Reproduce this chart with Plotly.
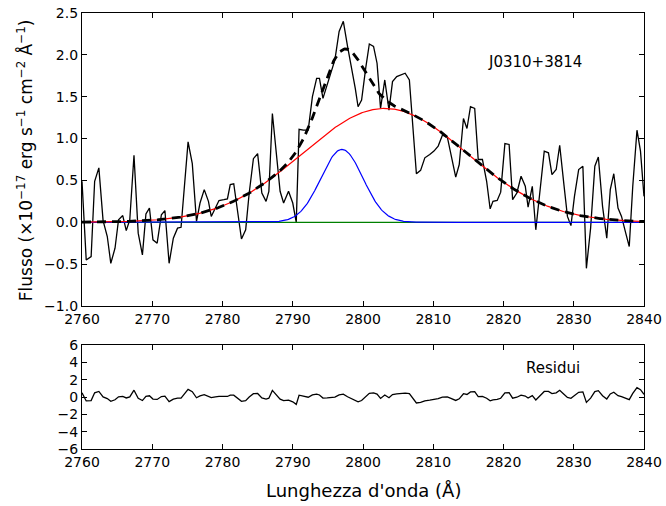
import numpy as np
import plotly.graph_objects as go

wave = [2760.0, 2760.6, 2761.3, 2761.8, 2762.4, 2763.0, 2763.6, 2764.1, 2764.7, 2765.2,
        2765.8, 2766.3, 2766.8, 2767.4, 2768.0, 2768.6, 2769.1, 2769.6, 2770.1, 2770.7,
        2771.3, 2771.8, 2772.4, 2773.0, 2773.6, 2774.1, 2775.1, 2775.7, 2776.3, 2776.8,
        2777.4, 2778.0, 2778.4, 2779.0, 2779.5, 2780.2, 2780.7, 2781.1, 2781.6, 2782.7,
        2783.3, 2783.8, 2784.4, 2785.0, 2785.6, 2786.2, 2786.6, 2787.1, 2787.7, 2788.2,
        2788.7, 2789.4, 2790.0, 2790.5, 2790.9, 2791.5, 2792.2, 2792.8, 2793.4, 2793.8,
        2794.3, 2794.9, 2795.4, 2796.0, 2796.6, 2797.2, 2797.8, 2798.4, 2798.9, 2799.3,
        2799.8, 2800.4, 2800.9, 2801.5, 2802.0, 2802.5, 2803.1, 2803.7, 2804.2, 2804.8,
        2805.4, 2806.0, 2806.6, 2807.1, 2807.6, 2808.2, 2808.8, 2809.5, 2810.1, 2810.7,
        2811.3, 2812.0, 2812.6, 2813.2, 2813.7, 2814.3, 2814.8, 2815.3, 2815.9, 2816.4,
        2817.0, 2817.6, 2818.1, 2818.5, 2819.1, 2819.6, 2820.2, 2820.8, 2821.3, 2821.9,
        2822.5, 2823.1, 2823.5, 2824.1, 2824.6, 2825.2, 2825.8, 2826.4, 2826.9, 2827.5,
        2828.0, 2828.6, 2829.1, 2829.6, 2830.1, 2830.7, 2831.3, 2831.8, 2832.4, 2833.0,
        2833.5, 2834.1, 2834.7, 2835.2, 2835.7, 2836.3, 2836.8, 2837.4, 2837.9, 2838.4,
        2839.0, 2839.5, 2840.0]

flux = [0.49, -0.45, -0.41, 0.49, 0.65, 0.02, -0.17, -0.49, -0.31, 0.03,
        0.08, -0.10, 0.03, 0.80, -0.13, -0.39, 0.10, 0.17, -0.21, -0.25,
        0.09, 0.14, -0.49, -0.19, -0.07, -0.06, 0.96, 0.70, 0.01, 0.23,
        0.39, 0.25, 0.07, 0.17, 0.26, 0.27, 0.28, 0.45, 0.46, -0.20,
        -0.09, 0.35, 0.76, 0.82, 0.35, 0.25, 0.37, 1.30, 0.77, 0.37,
        0.23, 0.37, 0.23, 0.00, 1.11, 1.10, 1.10, 1.50, 1.72, 1.72,
        1.48, 1.64, 1.75, 1.94, 2.28, 2.40, 2.10, 1.84, 1.60, 1.38,
        1.46, 1.85, 2.13, 2.10, 1.90, 1.36, 1.70, 1.34, 1.68, 1.74,
        1.76, 1.78, 1.70, 1.14, 0.58, 0.62, 0.77, 0.81, 0.85, 0.91,
        1.04, 1.02, 0.79, 0.54, 0.69, 1.24, 1.12, 1.38, 1.36, 0.75,
        0.75, 0.49, 0.16, 0.25, 0.26, 0.36, 0.94, 0.93, 0.27, 0.35,
        0.55, 0.43, 0.18, 0.43, -0.09, 0.40, 0.85, 0.83, 0.57, 0.63,
        0.92, 0.45, 0.07, -0.04, 0.31, 0.63, 0.67, -0.55, -0.07, 0.67,
        0.78, 0.19, -0.19, 0.39, 0.58, 0.17, 0.07, -0.13, -0.29, 0.43,
        1.10, 0.85, 0.31]

# Gaussian components: (amplitude, centre, sigma)
broad = (1.36, 2803.1, 11.7)
narrow = (0.87, 2797.0, 3.0)
continuum = 0.0

xticks = [2760, 2770, 2780, 2790, 2800, 2810, 2820, 2830, 2840]
yticks_top = [-1.0, -0.5, 0.0, 0.5, 1.0, 1.5, 2.0, 2.5]
yticks_res = [-6, -4, -2, 0, 2, 4, 6]


def gauss(x, p):
    a, c, s = p
    return a * np.exp(-(x - c) ** 2 / (2 * s ** 2))


xm = np.linspace(2760, 2840, 600)
xw = np.array(wave)
m_broad = gauss(xm, broad)
m_narrow = gauss(xm, narrow)
m_tot = m_broad + m_narrow + continuum
resid = np.array(flux) - (gauss(xw, broad) + gauss(xw, narrow) + continuum)

fig = go.Figure()
fig.add_trace(go.Scatter(x=xw, y=flux, mode="lines", line=dict(color="black", width=1.3),
                         xaxis="x", yaxis="y"))
fig.add_trace(go.Scatter(x=xm, y=np.full_like(xm, continuum), mode="lines",
                         line=dict(color="#008000", width=1.2), xaxis="x", yaxis="y"))
fig.add_trace(go.Scatter(x=xm, y=m_narrow, mode="lines", line=dict(color="#0000ff", width=1.2),
                         xaxis="x", yaxis="y"))
fig.add_trace(go.Scatter(x=xm, y=m_broad, mode="lines", line=dict(color="#ff0000", width=1.2),
                         xaxis="x", yaxis="y"))
fig.add_trace(go.Scatter(x=xm, y=m_tot, mode="lines",
                         line=dict(color="black", width=2.8, dash="9px,6px"),
                         xaxis="x", yaxis="y"))
fig.add_trace(go.Scatter(x=xw, y=resid, mode="lines", line=dict(color="black", width=1.3),
                         xaxis="x2", yaxis="y2"))

axis_common = dict(showline=True, linecolor="black", linewidth=1.2, mirror="ticks",
                   ticks="inside", ticklen=5, tickcolor="black", tickwidth=1,
                   showgrid=False, zeroline=False, automargin=False,
                   tickfont=dict(family="DejaVu Sans", size=14, color="black"))

fig.update_layout(
    width=666, height=506,
    margin=dict(l=82, r=22, t=13, b=57),
    paper_bgcolor="white", plot_bgcolor="white",
    showlegend=False,
    xaxis=dict(domain=[0, 1], range=[2760, 2840], tickvals=xticks, anchor="y", **axis_common),
    yaxis=dict(domain=[0.328, 1.0], range=[-1.0, 2.5], tickvals=yticks_top, tickformat=".1f",
               anchor="x", **axis_common),
    xaxis2=dict(domain=[0, 1], range=[2760, 2840], tickvals=xticks, anchor="y2", **axis_common),
    yaxis2=dict(domain=[0, 0.2385], range=[-6, 6], tickvals=yticks_res, anchor="x2", **axis_common),
    annotations=[
        dict(text="J0310+3814", x=2824.5, y=1.91, xref="x", yref="y", showarrow=False,
             xanchor="center", yanchor="middle",
             font=dict(family="DejaVu Sans", size=15, color="black")),
        dict(text="Residui", x=2827.0, y=3.4, xref="x2", yref="y2", showarrow=False,
             xanchor="center", yanchor="middle",
             font=dict(family="DejaVu Sans", size=15, color="black")),
        dict(text="Flusso (×10<sup>−17</sup> erg s<sup>−1</sup> cm<sup>−2</sup> Å<sup>−1</sup>)",
             x=-0.101, y=0.663, xref="paper", yref="paper", showarrow=False, textangle=-90,
             xanchor="center", yanchor="middle",
             font=dict(family="DejaVu Sans", size=17, color="black")),
        dict(text="Lunghezza d'onda (Å)", x=0.5, y=-0.096, xref="paper", yref="paper",
             xanchor="center", yanchor="middle",
             showarrow=False, font=dict(family="DejaVu Sans", size=18, color="black")),
    ],
)

fig.write_html("out.html")
